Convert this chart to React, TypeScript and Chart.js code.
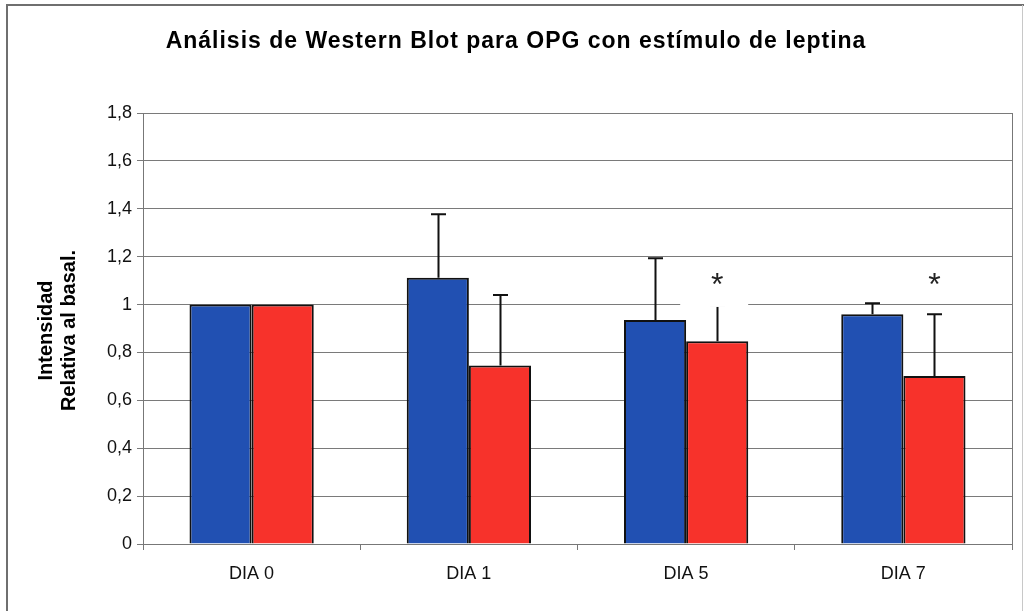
import React, { useEffect, useRef } from 'react';
import { Chart, registerables } from 'chart.js';

Chart.register(...registerables);

const chartTitle = 'Análisis de Western Blot para OPG con estímulo de leptina';
const yAxisTitle = ['Intensidad', 'Relativa al basal.'];
const categories = ['DIA 0', 'DIA 1', 'DIA 5', 'DIA 7'];
const controlValues = [1, 1.112, 0.936, 0.959];
const controlErrors = [0, 0.265, 0.257, 0.046];
const leptinValues = [1, 0.745, 0.847, 0.702];
const leptinErrors = [0, 0.295, 0.15, 0.257];
const significance = ['', '', '*', '*'];
const significanceBoxed = [false, false, true, false];
const yTickLabels = ['0', '0,2', '0,4', '0,6', '0,8', '1', '1,2', '1,4', '1,6', '1,8'];
const errorSets = [controlErrors, leptinErrors];

const FONT = '"Liberation Sans", Arial, sans-serif';

const overlayPlugin = {
  id: 'overlay',
  beforeDraw(chart: any) {
    const { ctx, width, height } = chart;
    ctx.save();
    ctx.fillStyle = '#ffffff';
    ctx.fillRect(0, 0, width, height);
    ctx.strokeStyle = '#6f6f6f';
    ctx.lineWidth = 2;
    ctx.beginPath();
    ctx.moveTo(7, height);
    ctx.lineTo(7, 5);
    ctx.lineTo(width, 5);
    ctx.stroke();
    ctx.strokeStyle = '#c8c8c8';
    ctx.lineWidth = 1;
    ctx.beginPath();
    ctx.moveTo(1022.5, 5);
    ctx.lineTo(1022.5, height);
    ctx.stroke();
    ctx.restore();
  },
  afterDatasetsDraw(chart: any) {
    const { ctx, chartArea, scales } = chart;
    const y = scales.y;
    ctx.save();
    ctx.strokeStyle = '#777';
    ctx.lineWidth = 1;
    ctx.beginPath();
    ctx.moveTo(chartArea.right + 0.5, chartArea.top);
    ctx.lineTo(chartArea.right + 0.5, chartArea.bottom);
    ctx.stroke();
    ctx.strokeStyle = '#111';
    ctx.lineWidth = 2;
    chart.data.datasets.forEach((ds: any, di: number) => {
      const meta = chart.getDatasetMeta(di);
      meta.data.forEach((bar: any, i: number) => {
        const err = errorSets[di][i];
        if (!err) return;
        const top = y.getPixelForValue(ds.data[i] + err);
        const x = Math.round(bar.x) + 0.5;
        ctx.beginPath();
        ctx.moveTo(x, bar.y);
        ctx.lineTo(x, top);
        ctx.moveTo(x - 7.5, top);
        ctx.lineTo(x + 7.5, top);
        ctx.stroke();
      });
    });
    const leptinMeta = chart.getDatasetMeta(1);
    significance.forEach((mark, i) => {
      if (!mark) return;
      const bar = leptinMeta.data[i];
      const cx = bar.x;
      if (significanceBoxed[i]) {
        const t = y.getPixelForValue(1.18);
        const b = y.getPixelForValue(0.99);
        ctx.fillStyle = '#ffffff';
        ctx.fillRect(cx - 37, t, 68, b - t);
      }
      ctx.fillStyle = '#222';
      ctx.font = `32px ${FONT}`;
      ctx.textAlign = 'center';
      ctx.textBaseline = 'middle';
      ctx.fillText(mark, cx, y.getPixelForValue(1.075));
    });
    ctx.restore();
  },
  afterDraw(chart: any) {
    const { ctx, width, chartArea } = chart;
    ctx.save();
    ctx.fillStyle = '#000';
    ctx.textAlign = 'center';
    ctx.textBaseline = 'middle';
    ctx.font = `bold 23px ${FONT}`;
    (ctx as any).letterSpacing = '1px';
    ctx.fillText(chartTitle, width / 2 + 4, 42);
    (ctx as any).letterSpacing = '0px';
    ctx.font = `bold 20px ${FONT}`;
    const cy = (chartArea.top + chartArea.bottom) / 2 + 2;
    const xs = [46, 69];
    yAxisTitle.forEach((line, i) => {
      ctx.save();
      ctx.translate(xs[i], cy);
      ctx.rotate(-Math.PI / 2);
      ctx.fillText(line, 0, 0);
      ctx.restore();
    });
    ctx.restore();
  },
};

export default function App() {
  const canvasRef = useRef<HTMLCanvasElement | null>(null);

  useEffect(() => {
    document.body.style.margin = '0';
    const canvas = canvasRef.current;
    if (!canvas) return;
    const chart = new Chart(canvas, {
      type: 'bar',
      data: {
        labels: categories,
        datasets: [
          {
            label: 'Control',
            data: controlValues,
            backgroundColor: '#2150b2',
            borderColor: '#111',
            borderWidth: 2,
            categoryPercentage: 0.572,
            barPercentage: 1,
          },
          {
            label: 'Leptina',
            data: leptinValues,
            backgroundColor: '#f7322b',
            borderColor: '#111',
            borderWidth: 2,
            categoryPercentage: 0.572,
            barPercentage: 1,
          },
        ],
      },
      options: {
        responsive: false,
        animation: false,
        devicePixelRatio: 1,
        layout: { padding: { top: 113, right: 12, left: 0, bottom: 0 } },
        plugins: {
          legend: { display: false },
          title: { display: false },
          tooltip: { enabled: false },
        },
        scales: {
          x: {
            grid: {
              display: true,
              drawOnChartArea: false,
              drawTicks: true,
              tickLength: 6,
              color: '#777',
              offset: true,
            },
            border: { color: '#777', width: 1 },
            ticks: {
              font: { family: FONT, size: 18 },
              color: '#111',
              padding: 13,
            },
            afterFit(scale: any) {
              scale.height = 67;
            },
          },
          y: {
            min: 0,
            max: 1.8,
            grid: {
              color: '#7a7a7a',
              lineWidth: 1,
              tickLength: 6,
              drawTicks: true,
            },
            border: { color: '#777', width: 1 },
            ticks: {
              stepSize: 0.2,
              font: { family: FONT, size: 18 },
              color: '#111',
              padding: 5,
              callback: (_v: any, i: number) => yTickLabels[i],
            },
            afterFit(scale: any) {
              scale.width = 143;
            },
          },
        },
      },
      plugins: [overlayPlugin],
    });
    return () => chart.destroy();
  }, []);

  return (
    <div style={{ position: 'fixed', left: 0, top: 0, width: 1024, height: 611, background: '#fff' }}>
      <canvas ref={canvasRef} width={1024} height={611} style={{ display: 'block' }} />
    </div>
  );
}
